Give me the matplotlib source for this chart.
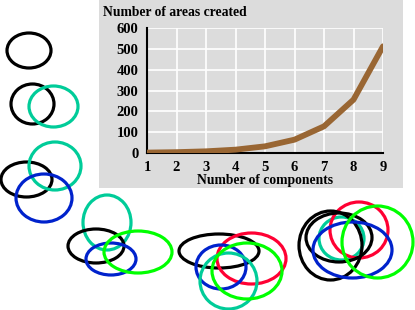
import matplotlib
matplotlib.use("Agg")
import matplotlib.pyplot as plt
from matplotlib.patches import Ellipse, Rectangle

# chart data
components = [1, 2, 3, 4, 5, 6, 7, 8, 9]
areas = [2, 4, 8, 16, 32, 64, 128, 256, 512]
y_ticks = [0, 100, 200, 300, 400, 500, 600]

# ellipse sketches (pixel centre x, y, width, height, colour)
black = "#000000"
teal = "#00cc99"
blue = "#0022cc"
green = "#00ff00"
red = "#ff0033"
ellipses = [
    (29, 50.5, 44, 35, black),
    (32.5, 104, 43, 40, black),
    (53.5, 106.5, 49, 41, teal),
    (26.5, 179.5, 51, 35, black),
    (55, 166, 52, 48, teal),
    (44, 198, 56, 48, blue),
    (107, 222.5, 48, 55, teal),
    (96, 246, 56, 34, black),
    (111, 259, 50, 32, blue),
    (138, 252, 68, 42, green),
    (219, 251, 80, 34, black),
    (251.5, 258.5, 69, 51, red),
    (221, 267, 50, 44, blue),
    (228.5, 281, 57, 56, teal),
    (247, 271, 70, 56, green),
    (341.5, 238.5, 45, 43, teal),
    (359, 230, 58, 56, red),
    (330.5, 245.5, 63, 69, black),
    (339, 237.5, 66, 49, black),
    (352.5, 250, 79, 56, blue),
    (377.5, 242, 71, 72, green),
]

W, H = 415, 310
fig = plt.figure(figsize=(W / 100, H / 100), dpi=100)
fig.patch.set_facecolor("white")

# background layer in pixel coordinates
bg = fig.add_axes([0, 0, 1, 1])
bg.set_xlim(0, W)
bg.set_ylim(H, 0)
bg.axis("off")
bg.add_patch(Rectangle((99, 0), 304, 188, facecolor="#dcdcdc", edgecolor="none"))
for cx, cy, w, h, c in ellipses:
    bg.add_patch(Ellipse((cx, cy), w, h, fill=False, edgecolor=c, linewidth=2.3))

font = dict(family="Liberation Serif", weight="bold")

ax = fig.add_axes([147 / W, 1 - 153 / H, 236 / W, 125 / H])
ax.set_facecolor("#dcdcdc")
ax.plot(components, areas, color="#996633", linewidth=4.2, solid_capstyle="round", zorder=3)
ax.set_xlim(1, 9)
ax.set_ylim(0, 600)
ax.set_xticks(components)
ax.set_yticks(y_ticks)
ax.grid(True, color="white", linewidth=1.2)
ax.set_axisbelow(True)
for s in ["top", "right"]:
    ax.spines[s].set_visible(False)
for s in ["left", "bottom"]:
    ax.spines[s].set_color("black")
    ax.spines[s].set_linewidth(1.5)
ax.tick_params(length=0, pad=6)
for lab in ax.get_xticklabels() + ax.get_yticklabels():
    lab.set_fontfamily("Liberation Serif")
    lab.set_fontweight("bold")
    lab.set_fontsize(10.5)
ax.set_xlabel("Number of components", fontsize=9.8, labelpad=0, **font)
fig.text(103 / W, 1 - 13 / H, "Number of areas created", fontsize=9.8,
         ha="left", va="center", **font)

fig.savefig("out.png", dpi=100)
